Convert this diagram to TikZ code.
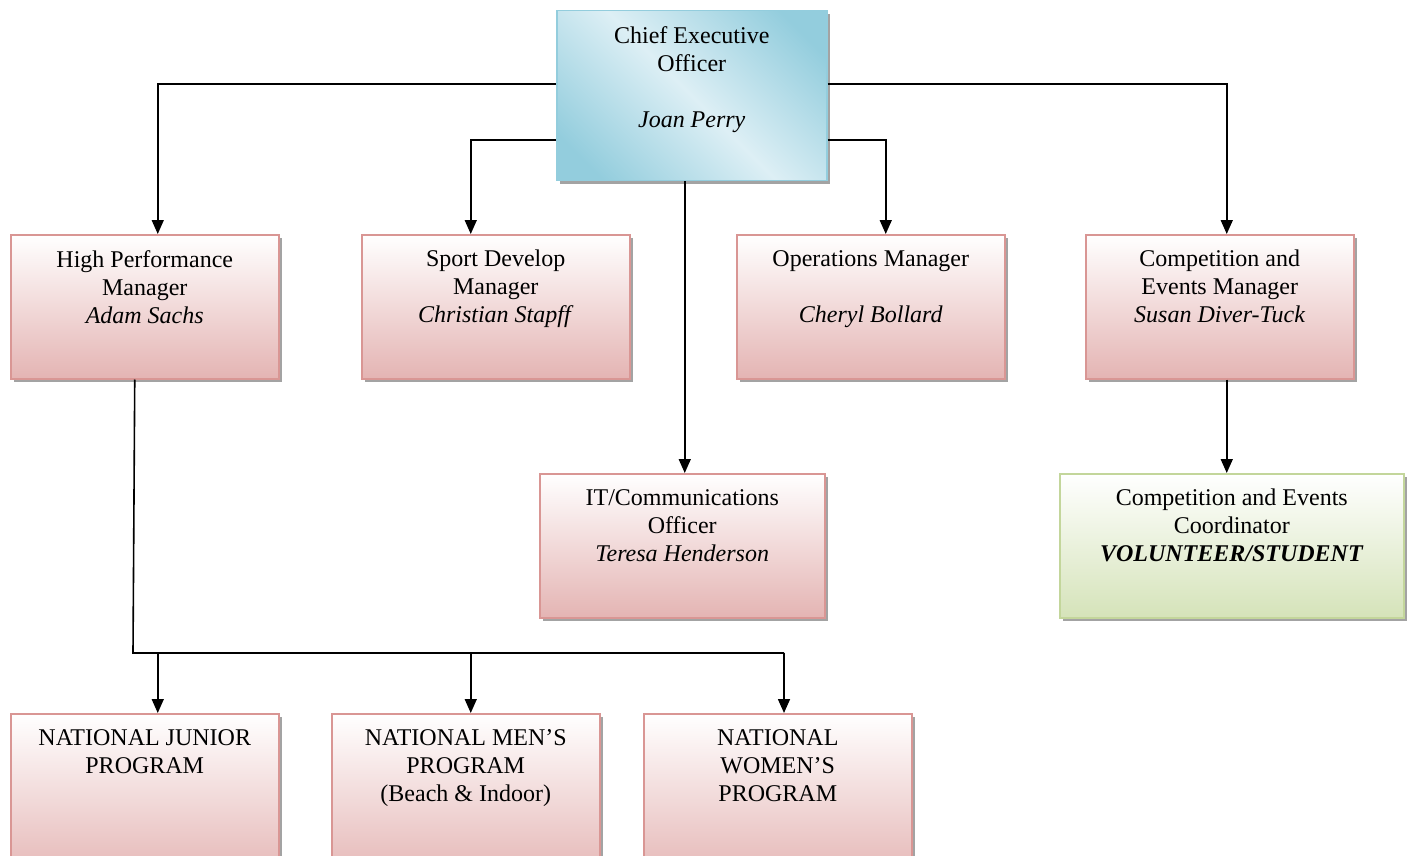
\documentclass[tikz,border=0pt]{standalone}
\usepackage{fontspec}
\setmainfont{Liberation Serif}
\usetikzlibrary{arrows.meta,shadows,calc}
\definecolor{pinkline}{HTML}{D99694}
\definecolor{pinkfill}{HTML}{E4B4B3}
\definecolor{greenline}{HTML}{C3D69B}
\definecolor{greenfill}{HTML}{D5E3B9}
\definecolor{blueline}{HTML}{93CDDD}
\definecolor{ceodark}{HTML}{93CDDD}
\definecolor{ceolight}{HTML}{DDEFF5}
\pgfdeclarehorizontalshading{ceoshade}{100bp}{color(0bp)=(ceodark); color(22bp)=(ceodark); color(50bp)=(ceolight); color(78bp)=(ceodark); color(100bp)=(ceodark)}
\tikzset{
  basebox/.style={rectangle, inner sep=0pt, line width=1.5pt, anchor=north west,
    drop shadow={shadow xshift=3pt, shadow yshift=-3pt, fill=black!45, opacity=0.8}},
  pinkbox/.style={basebox, draw=pinkline, top color=white, bottom color=pinkfill},
  greenbox/.style={basebox, draw=greenline, top color=white, bottom color=greenfill},
  ceobox/.style={basebox, draw=blueline, shading=ceoshade, shading angle=45},
  txt/.style={font=\fontsize{24}{28}\selectfont, align=center, inner sep=0pt, anchor=north},
  arr/.style={line width=1.6pt, -{Triangle[width=12pt,length=14pt]}},
  ln/.style={line width=1.6pt}
}
\begin{document}
\begin{tikzpicture}[x=1pt,y=-1pt]
\useasboundingbox (0,0) rectangle (1409,856);
\clip (0,0) rectangle (1409,856);
% boxes
\node[ceobox, minimum width=270pt, minimum height=170pt] (ceo) at (556,10) {};
\node[pinkbox, minimum width=268pt, minimum height=144pt] (hpm) at (10,234) {};
\node[pinkbox, minimum width=268pt, minimum height=144pt] (sdm) at (361,234) {};
\node[pinkbox, minimum width=268pt, minimum height=144pt] (ops) at (736,234) {};
\node[pinkbox, minimum width=268pt, minimum height=144pt] (cem) at (1085,234) {};
\node[pinkbox, minimum width=285pt, minimum height=144pt] (itc) at (539,473) {};
\node[greenbox, minimum width=344pt, minimum height=144pt] (cec) at (1059,473) {};
\node[pinkbox, minimum width=268pt, minimum height=170pt] (nj) at (10,713) {};
\node[pinkbox, minimum width=268pt, minimum height=170pt] (nm) at (331,713) {};
\node[pinkbox, minimum width=268pt, minimum height=170pt] (nw) at (643,713) {};
% texts
\node[txt] (ceot) at ($(ceo.north)+(0,16)$) {Chief Executive\\Officer\\[28pt]\textit{Joan Perry}};
\node[txt] (hpmt) at ($(hpm.north)+(0,16)$) {High Performance\\Manager\\\textit{Adam Sachs}};
\node[txt] (sdmt) at ($(sdm.north)+(0,16)$) {Sport Develop\\Manager\\\textit{Christian Stapff}};
\node[txt] (opst) at ($(ops.north)+(0,16)$) {Operations Manager\\[28pt]\textit{Cheryl Bollard}};
\node[txt] (cemt) at ($(cem.north)+(0,16)$) {Competition and\\Events Manager\\\textit{Susan Diver-Tuck}};
\node[txt] (itct) at ($(itc.north)+(0,16)$) {IT/Communications\\Officer\\\textit{Teresa Henderson}};
\node[txt] (cect) at ($(cec.north)+(0,16)$) {Competition and Events\\Coordinator\\\textbf{\textit{VOLUNTEER/STUDENT}}};
\node[txt] (njt) at ($(nj.north)+(0,16)$) {NATIONAL JUNIOR\\PROGRAM};
\node[txt] (nmt) at ($(nm.north)+(0,16)$) {NATIONAL MEN’S\\PROGRAM\\(Beach \& Indoor)};
\node[txt] (nwt) at ($(nw.north)+(0,16)$) {NATIONAL\\WOMEN’S\\PROGRAM};
% connectors
\draw[arr] ($(ceo.north west)+(0,74)$) -| ($(hpm.north)+(13,0)$);
\draw[arr] ($(ceo.north east)+(0,74)$) -| ($(cem.north)+(7,0)$);
\draw[arr] ($(ceo.north west)+(0,130)$) -| ($(sdm.north)+(-25,0)$);
\draw[arr] ($(ceo.north east)+(0,130)$) -| ($(ops.north)+(15,0)$);
\draw[arr] ($(ceo.south)+(-7,0)$) -- ($(itc.north)+(2.5,0)$);
\draw[arr] ($(cem.south)+(7,0)$) -- ($(cec.north)+(-5,0)$);
\coordinate (hb) at (133,653);
\coordinate (hr) at (784,653);
\draw[ln] ($(hpm.south)+(-10,0)$) -- (hb) -- (hr);
\draw[arr] (hb -| nj.north) ++(13,0) -- ($(nj.north)+(13,0)$);
\draw[arr] ($(hb -| nm.north)+(5,0)$) -- ($(nm.north)+(5,0)$);
\draw[arr] (hr) -- (hr |- nw.north);
\end{tikzpicture}
\end{document}
